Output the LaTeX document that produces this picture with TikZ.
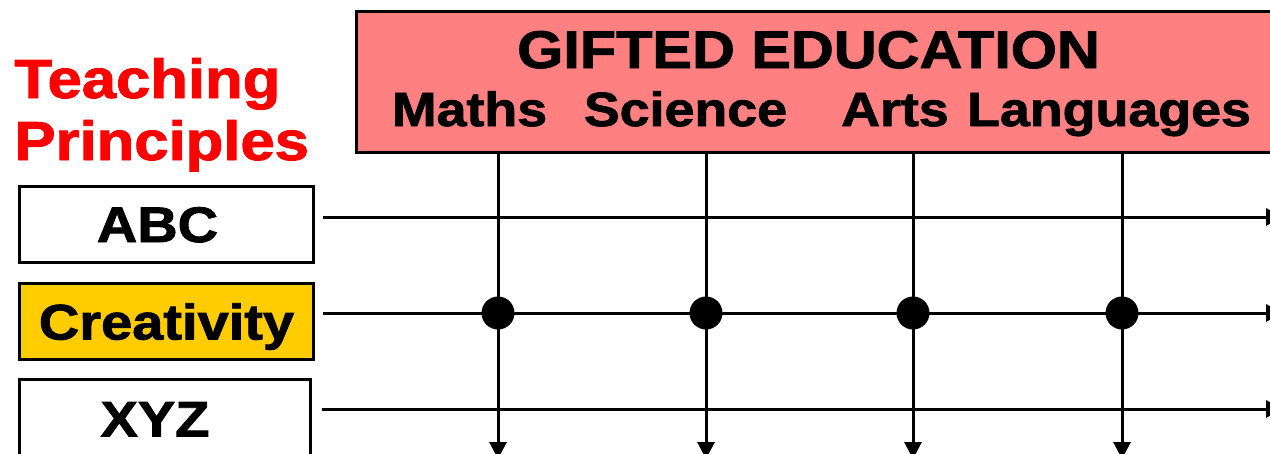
\documentclass[tikz,border=0pt]{standalone}
\usepackage{fontspec}
\setmainfont{Liberation Sans}[BoldFeatures={FakeBold=1.6}]
\usepackage{graphicx}
\usetikzlibrary{arrows.meta}
\definecolor{titlepink}{RGB}{255,128,128}
\definecolor{gold}{RGB}{255,204,0}
\newcommand{\wide}[1]{\scalebox{1.12}[1]{#1}}

\begin{document}
\begin{tikzpicture}[x=1pt, y=-1pt, line width=3pt,
  principle/.style={draw, rectangle, minimum width=294pt, minimum height=76pt, inner sep=0pt,
    text height=36pt, text depth=0pt, font=\fontsize{50}{50}\selectfont\bfseries},
  subject/.style={anchor=base, inner sep=0pt, font=\fontsize{48}{48}\selectfont\bfseries},
  heading/.style={anchor=base west, inner sep=0pt, text=red, font=\fontsize{55}{55}\selectfont\bfseries},
  junction/.style={circle, fill=black, minimum size=33pt, inner sep=0pt},
  arr/.style={-{Triangle[length=17pt,width=17pt]}}]
  \useasboundingbox (0,0) rectangle (1270,453);
  \clip (0,0) rectangle (1270,453);

  % Nodes
  \node[heading] (teaching) at (13,98) {\wide{Teaching}};
  \node[heading] (principles) at (13,160) {\wide{Principles}};

  \node[draw, fill=titlepink, minimum width=940pt, minimum height=141pt, anchor=north west] (title) at (355,9.5) {};
  \node[anchor=base, inner sep=0pt, font=\fontsize{53}{53}\selectfont\bfseries] (gifted) at (808.5,68) {\wide{GIFTED EDUCATION}};
  \node[subject] (maths) at (469.5,126) {\wide{Maths}};
  \node[subject] (science) at (685.5,126) {\wide{Science}};
  \node[subject] (arts) at (895,126) {\wide{Arts}};
  \node[subject] (languages) at (1109,126) {\wide{Languages}};

  \node[principle] (abc) at (166.5,224) {\wide{ABC}\hspace*{18pt}};
  \node[principle, fill=gold] (creativity) at (166.5,321.5) {\wide{Creativity}};
  \node[principle, minimum width=291pt, minimum height=78pt] (xyz) at (165,418.5) {\wide{XYZ}\hspace*{20pt}};

  \node[junction] (dotM) at (498,313) {};
  \node[junction] (dotS) at (706,313) {};
  \node[junction] (dotA) at (913,313) {};
  \node[junction] (dotL) at (1122,313) {};

  \coordinate (east) at (1283,0);
  \coordinate (south) at (0,459);

  % Edges
  \draw[arr] ([shift={(8pt,7pt)}]abc.east) -- ([yshift=7pt]abc.east -| east);
  \draw[arr] ([shift={(8pt,8.5pt)}]creativity.east) -- ([yshift=8.5pt]creativity.east -| east);
  \draw[arr] ([shift={(9.5pt,9.5pt)}]xyz.east) -- ([yshift=9.5pt]xyz.east -| east);

  \draw[arr] (title.south -| dotM) -- (dotM |- south);
  \draw[arr] (title.south -| dotS) -- (dotS |- south);
  \draw[arr] (title.south -| dotA) -- (dotA |- south);
  \draw[arr] (title.south -| dotL) -- (dotL |- south);
\end{tikzpicture}
\end{document}
